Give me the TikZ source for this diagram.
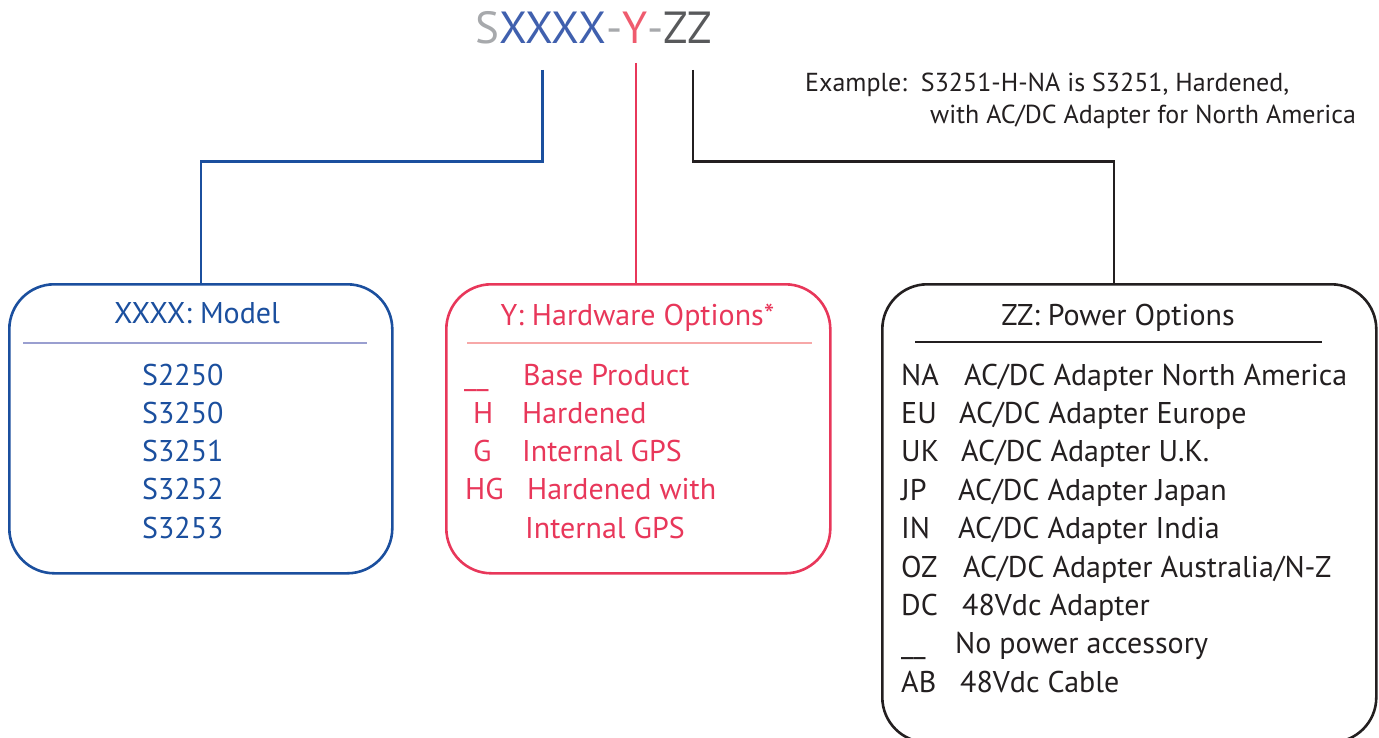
\documentclass[tikz,border=0pt]{standalone}
\usepackage{fontspec}
\setmainfont{PT Sans}
\definecolor{tgray}{HTML}{A7A9AC}
\definecolor{tblue}{HTML}{4060AE}
\definecolor{tred}{HTML}{EF5B6E}
\definecolor{tdark}{HTML}{58595B}
\definecolor{cblue}{HTML}{1B4F9E}
\definecolor{sepblue}{HTML}{9A9FD0}
\definecolor{cred}{HTML}{E8375A}
\definecolor{sepred}{HTML}{F7A8A8}
\definecolor{cblack}{HTML}{231F20}
\newcommand{\fsz}[1]{\fontsize{#1}{#1}\selectfont}
\tikzset{
  boxshape/.style={draw, line width=2.6pt, rounded corners=45pt, anchor=north west, inner sep=0pt},
  conn/.style={line width=2.8pt},
  txt/.style={anchor=base west, inner sep=0pt, font=\fsz{30}},
  ttl/.style={anchor=base, inner sep=0pt, font=\fsz{30}},
  sep/.style={line width=2.2pt},
  extxt/.style={anchor=base west, inner sep=0pt, font=\fsz{26}, text=cblack},
}
\begin{document}
\begin{tikzpicture}[x=1pt,y=-1pt]
\useasboundingbox (0,0) rectangle (1379,738);
% title
\node[anchor=base west, inner sep=0pt, font=\fsz{45}] (title) at (475,44)
  {\textcolor{tgray}{S}\textcolor{tblue}{XXXX}\textcolor{tgray}{-}\textcolor{tred}{Y}\textcolor{tgray}{-}\textcolor{tdark}{ZZ}};
\coordinate (tx) at (542.5,70);
\coordinate (ty) at (636,63);
\coordinate (tz) at (693,70);
% example
\node[extxt] (ex1) at (805,92) {Example:\ \ S3251-H-NA is S3251, Hardened,};
\node[extxt] (ex2) at (930,124) {with AC/DC Adapter for North America};
% boxes
\node[boxshape, cblue, minimum width=383pt, minimum height=289pt] (model) at (8,283) {};
\node[boxshape, cred, minimum width=384pt, minimum height=289pt] (hw) at (445,283) {};
\node[boxshape, cblack, minimum width=494pt, minimum height=458pt] (pw) at (881,283) {};
% connectors
\draw[conn, cblue] (tx) -- (tx |- 0,161.5) -| ([xshift=193pt]model.north west);
\draw[conn, cred] (ty) -- (ty |- hw.north);
\draw[conn, cblack] (tz) -- (tz |- 0,161.5) -| ([xshift=233pt]pw.north west);
% model box
\node[ttl, text=cblue] (mt) at (197,323) {XXXX: Model};
\draw[sep, sepblue] (23,343) -- (367,343);
\foreach \t [count=\i from 0] in {S2250,S3250,S3251,S3252,S3253}
  \node[txt, text=cblue] (m\i) at (142,385+38.3*\i) {\t};
% hardware box
\node[ttl, text=cred] (ht) at (637.5,325) {Y: Hardware Options*};
\draw[sep, sepred] (467,343) -- (812,343);
\node[txt, text=cred] (h0c) at (464,385) {\_\_};
\node[txt, text=cred] (h0d) at (523,385) {Base Product};
\node[txt, text=cred] (h1c) at (473,423.3) {H};
\node[txt, text=cred] (h1d) at (522,423.3) {Hardened};
\node[txt, text=cred] (h2c) at (473,461.6) {G};
\node[txt, text=cred] (h2d) at (522,461.6) {Internal GPS};
\node[txt, text=cred] (h3c) at (465,499.9) {HG};
\node[txt, text=cred] (h3d) at (527,499.9) {Hardened with};
\node[txt, text=cred] (h4d) at (525,538.2) {Internal GPS};
% power box
\node[ttl, text=cblack] (pt) at (1118,325) {ZZ: Power Options};
\draw[sep, cblack] (915,342) -- (1322,342);
\foreach \c/\d/\x [count=\i from 0] in {
  NA/AC\slash DC Adapter North America/964,
  EU/AC\slash DC Adapter Europe/959,
  UK/AC\slash DC Adapter U.K./961,
  JP/AC\slash DC Adapter Japan/958,
  IN/AC\slash DC Adapter India/958,
  OZ/AC\slash DC Adapter Australia\slash N-Z/963,
  DC/48Vdc Adapter/962,
  \_\_/No power accessory/955,
  AB/48Vdc Cable/960}{
  \node[txt, text=cblack] (pc\i) at (901,385+38.4*\i) {\c};
  \node[txt, text=cblack] (pd\i) at (\x,385+38.4*\i) {\d};
}
\end{tikzpicture}
\end{document}
